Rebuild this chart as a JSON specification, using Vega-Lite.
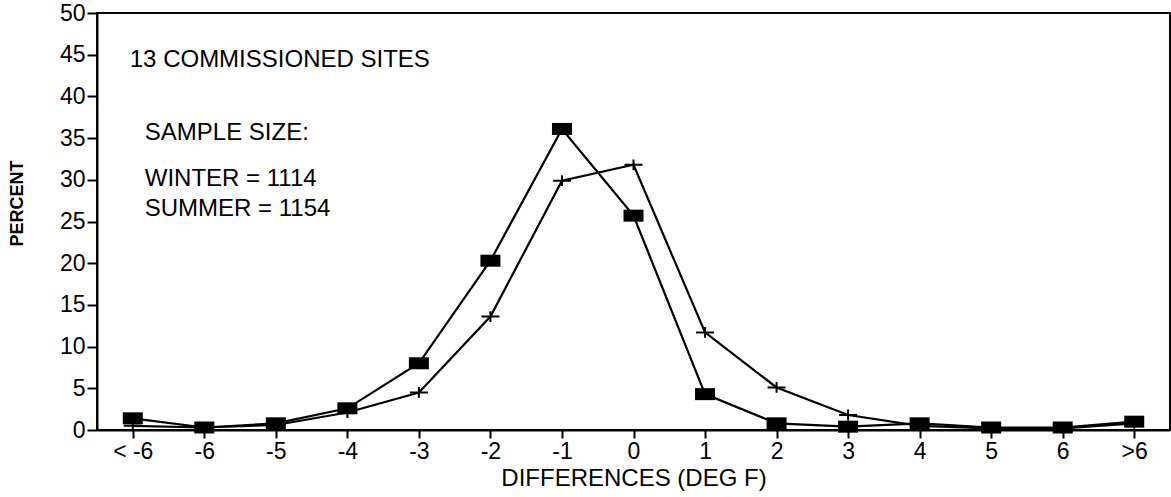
{
  "$schema": "https://vega.github.io/schema/vega-lite/v6.json",
  "autosize": {"type": "none"},
  "padding": {"left": 97, "top": 13, "right": 1, "bottom": 67},
  "width": 1073,
  "height": 417,
  "background": "white",
  "config": {
    "font": "Liberation Sans",
    "view": {"stroke": "black", "strokeWidth": 2},
    "axis": {
      "domainColor": "black", "domainWidth": 2, "tickColor": "black", "tickWidth": 2,
      "labelColor": "black", "titleColor": "black", "labelFont": "Liberation Sans",
      "titleFont": "Liberation Sans", "labelFontSize": 23, "titleFontSize": 24,
      "labelFontWeight": "normal", "titleFontWeight": "normal", "grid": false
    }
  },
  "datasets": {
    "pts": [
      {"d": "< -6", "series": "squares", "pct": 1.4},
      {"d": "-6", "series": "squares", "pct": 0.3},
      {"d": "-5", "series": "squares", "pct": 0.8},
      {"d": "-4", "series": "squares", "pct": 2.6},
      {"d": "-3", "series": "squares", "pct": 8.0},
      {"d": "-2", "series": "squares", "pct": 20.3},
      {"d": "-1", "series": "squares", "pct": 36.1},
      {"d": "0", "series": "squares", "pct": 25.7},
      {"d": "1", "series": "squares", "pct": 4.3},
      {"d": "2", "series": "squares", "pct": 0.8},
      {"d": "3", "series": "squares", "pct": 0.4},
      {"d": "4", "series": "squares", "pct": 0.8},
      {"d": "5", "series": "squares", "pct": 0.3},
      {"d": "6", "series": "squares", "pct": 0.3},
      {"d": ">6", "series": "squares", "pct": 1.0},
      {"d": "< -6", "series": "plus", "pct": 0.5},
      {"d": "-6", "series": "plus", "pct": 0.3},
      {"d": "-5", "series": "plus", "pct": 0.6},
      {"d": "-4", "series": "plus", "pct": 2.1},
      {"d": "-3", "series": "plus", "pct": 4.5},
      {"d": "-2", "series": "plus", "pct": 13.6},
      {"d": "-1", "series": "plus", "pct": 29.9},
      {"d": "0", "series": "plus", "pct": 31.8},
      {"d": "1", "series": "plus", "pct": 11.7},
      {"d": "2", "series": "plus", "pct": 5.1},
      {"d": "3", "series": "plus", "pct": 1.8},
      {"d": "4", "series": "plus", "pct": 0.5},
      {"d": "5", "series": "plus", "pct": 0.2},
      {"d": "6", "series": "plus", "pct": 0.2},
      {"d": ">6", "series": "plus", "pct": 0.8}
    ],
    "title": [
      {"d": "< -6", "pct": 44.4, "label": "13  COMMISSIONED  SITES"}
    ],
    "notes": [
      {"d": "< -6", "pct": 35.6, "label": "SAMPLE SIZE:"},
      {"d": "< -6", "pct": 30.1, "label": "WINTER = 1114"},
      {"d": "< -6", "pct": 26.5, "label": "SUMMER = 1154"}
    ]
  },
  "encoding": {
    "x": {
      "field": "d", "type": "ordinal",
      "sort": ["< -6", "-6", "-5", "-4", "-3", "-2", "-1", "0", "1", "2", "3", "4", "5", "6", ">6"],
      "scale": {"type": "point", "padding": 0.5},
      "axis": {"title": "DIFFERENCES (DEG F)", "labelAngle": 0, "tickSize": 8, "labelPadding": 2, "titlePadding": 3}
    },
    "y": {
      "field": "pct", "type": "quantitative",
      "scale": {"domain": [0, 50], "nice": false, "zero": true},
      "axis": {"title": "PERCENT", "titleFontSize": 18, "titleFontWeight": "bold", "values": [0, 5, 10, 15, 20, 25, 30, 35, 40, 45, 50], "tickSize": 10, "labelPadding": 2, "titleX": -80, "titleY": 190, "titleBaseline": "middle"}
    }
  },
  "layer": [
    {
      "data": {"name": "pts"},
      "mark": {"type": "line", "color": "black", "strokeWidth": 2.2},
      "encoding": {"detail": {"field": "series", "type": "nominal"}}
    },
    {
      "data": {"name": "pts"},
      "transform": [{"filter": "datum.series === 'squares'"}],
      "mark": {"type": "point", "shape": "M-1,-0.6H1V0.6H-1Z", "filled": true, "color": "black", "size": 400, "opacity": 1}
    },
    {
      "data": {"name": "pts"},
      "transform": [{"filter": "datum.series === 'plus'"}],
      "mark": {"type": "point", "shape": "M-1,0H1M0,-0.6V0.6", "filled": false, "color": "black", "strokeWidth": 2, "size": 324, "opacity": 1}
    },
    {
      "data": {"name": "title"},
      "mark": {"type": "text", "align": "left", "baseline": "middle", "dx": -3, "fontSize": 24, "color": "black"},
      "encoding": {"text": {"field": "label"}}
    },
    {
      "data": {"name": "notes"},
      "mark": {"type": "text", "align": "left", "baseline": "middle", "dx": 12, "fontSize": 24, "color": "black"},
      "encoding": {"text": {"field": "label"}}
    }
  ]
}
